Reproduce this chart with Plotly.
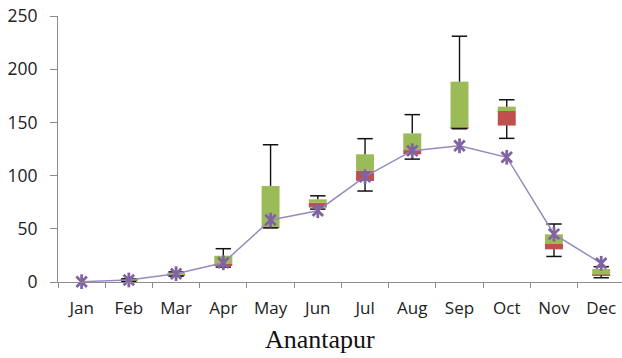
import plotly.graph_objects as go

# Monthly rainfall distribution, Anantapur
months = ["Jan", "Feb", "Mar", "Apr", "May", "Jun", "Jul", "Aug", "Sep", "Oct", "Nov", "Dec"]
minimum = [0, 0.5, 5.5, 14.0, 50.8, 68.5, 85.5, 115.5, 144.0, 135.0, 24.0, 4.0]
q1 = [0, 1.0, 6.0, 15.7, 51.0, 70.0, 95.0, 120.0, 144.5, 147.0, 30.7, 6.3]
median = [0, 1.5, 6.5, 17.5, 51.5, 74.5, 104.5, 124.0, 145.5, 160.7, 35.7, 7.0]
q3 = [0, 2.5, 8.7, 24.7, 90.2, 77.7, 120.0, 139.7, 188.3, 164.8, 44.8, 12.2]
maximum = [0, 3.0, 9.5, 31.3, 129.0, 81.0, 134.7, 157.3, 231.0, 171.3, 54.5, 14.4]
mean = [0.3, 1.9, 7.8, 18.0, 58.3, 67.0, 99.0, 123.4, 128.0, 117.2, 45.0, 17.6]

GREEN = "#9BBB59"
RED = "#C0504D"
PURPLE = "#8064A2"

fig = go.Figure()

# lower half of the box: Q1 -> median
fig.add_trace(go.Bar(
    x=months, y=[m - a for m, a in zip(median, q1)], base=q1,
    marker=dict(color=RED, line=dict(width=0)), showlegend=False,
))
# upper half of the box: median -> Q3
fig.add_trace(go.Bar(
    x=months, y=[b - m for b, m in zip(q3, median)], base=median,
    marker=dict(color=GREEN, line=dict(width=0)), showlegend=False,
))

# whiskers
wx, wy, cx, cy = [], [], [], []
for m, lo, a, b, hi in zip(months, minimum, q1, q3, maximum):
    if hi <= 0:
        continue
    wx += [m, m, None, m, m, None]
    wy += [b, hi, None, lo, a, None]
    cx += [m, m]
    cy += [hi, lo]

fig.add_trace(go.Scatter(
    x=wx, y=wy, mode="lines", line=dict(color="#111111", width=1.4),
    showlegend=False, hoverinfo="skip",
))
fig.add_trace(go.Scatter(
    x=cx, y=cy, mode="markers",
    marker=dict(symbol="line-ew", size=11, line=dict(color="#111111", width=1.5)),
    showlegend=False, hoverinfo="skip",
))

# monthly mean with star markers
fig.add_trace(go.Scatter(
    x=months, y=mean, mode="lines",
    line=dict(color="#9A88C0", width=1.5),
    showlegend=False, cliponaxis=False,
))
fig.add_trace(go.Scatter(
    x=months, y=mean, mode="markers",
    marker=dict(symbol="x-thin", size=10.5, line=dict(color=PURPLE, width=2.8)),
    showlegend=False, cliponaxis=False,
))
fig.add_trace(go.Scatter(
    x=months, y=mean, mode="markers",
    marker=dict(symbol="line-ns", size=10.5, line=dict(color=PURPLE, width=2.8)),
    showlegend=False, cliponaxis=False,
))

fig.update_layout(
    width=622, height=358,
    margin=dict(l=58, r=0, t=16, b=76),
    paper_bgcolor="white", plot_bgcolor="white",
    barmode="overlay", bargap=0.62,
    font=dict(family="Open Sans", color="#222222"),
    xaxis=dict(
        type="category", range=[-0.5, 11.44],
        showline=True, linecolor="#8c8c8c", linewidth=1,
        ticks="outside", tickson="boundaries", ticklen=5, tickcolor="#8c8c8c",
        tickfont=dict(size=17, family="Open Sans", color="#222222"),
        ticklabelstandoff=11,
        showgrid=False, zeroline=False,
    ),
    yaxis=dict(
        range=[0, 250], tickvals=[0, 50, 100, 150, 200, 250],
        showline=True, linecolor="#8c8c8c", linewidth=1,
        ticks="outside", ticklen=7, tickcolor="#8c8c8c",
        tickfont=dict(size=17.5, family="Open Sans", color="#222222"),
        ticklabelstandoff=9,
        showgrid=False, zeroline=False,
    ),
    annotations=[dict(
        text="Anantapur", xref="paper", yref="paper", x=0.4645, y=-0.215,
        xanchor="center", yanchor="middle", showarrow=False,
        font=dict(family="Liberation Serif", size=26, color="#111111"),
    )],
)

fig.write_html("out.html")
